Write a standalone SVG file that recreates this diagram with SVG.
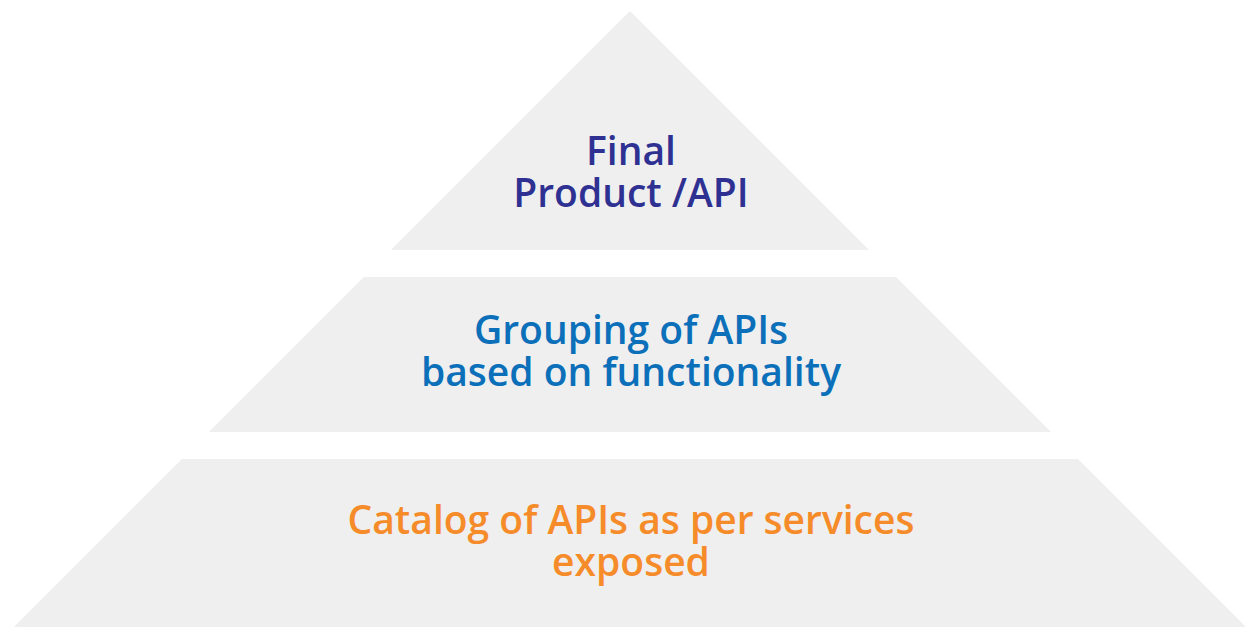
<svg xmlns="http://www.w3.org/2000/svg" width="1252" height="627" viewBox="0 0 1252 627">
  <style>
    .tier { fill: #efefef; }
    .label { font-family: "Open Sans", Lato, sans-serif; font-weight: 600; font-size: 39px; text-anchor: middle; }
    .top { fill: #2e3192; }
    .mid { fill: #0b70b9; }
    .base { fill: #f68b2a; }
  </style>
  <rect width="1252" height="627" fill="#ffffff"/>
  <!-- Pyramid tiers: 45-degree sides, apex at (630, 11) -->
  <g id="tier-top">
    <polygon class="tier" points="630,11 869,250 391,250"/>
    <text class="label top"><tspan x="631" y="165">Final</tspan><tspan x="631" y="207">Product /API</tspan></text>
  </g>
  <g id="tier-middle">
    <polygon class="tier" points="364,277 896,277 1051,432 209,432"/>
    <text class="label mid"><tspan x="631" y="344">Grouping of APIs</tspan><tspan x="631" y="386">based on functionality</tspan></text>
  </g>
  <g id="tier-base">
    <polygon class="tier" points="182,459 1078,459 1246,627 14,627"/>
    <text class="label base"><tspan x="631" y="534">Catalog of APIs as per services</tspan><tspan x="631" y="576">exposed</tspan></text>
  </g>
</svg>
